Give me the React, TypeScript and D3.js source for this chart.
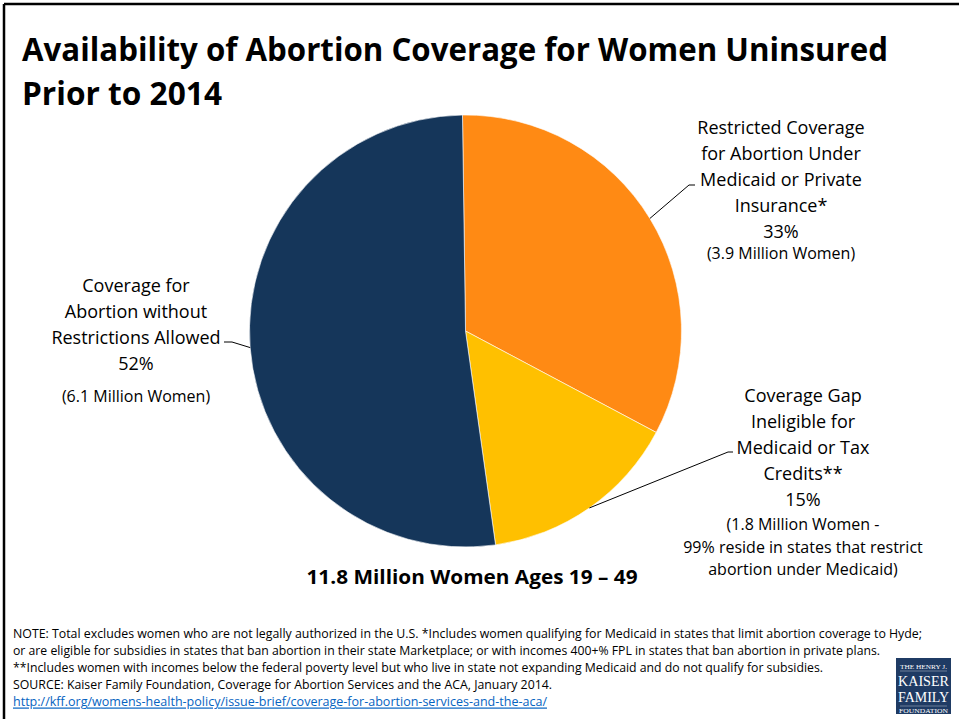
import React from "react";
import * as d3 from "d3";

const categories = [
  "Restricted Coverage for Abortion Under Medicaid or Private Insurance*",
  "Coverage Gap Ineligible for Medicaid or Tax Credits**",
  "Coverage for Abortion without Restrictions Allowed",
];
const percentValues = [33, 15, 52];
const percentLabels = ["33%", "15%", "52%"];
const nameLines = [
  ["Restricted Coverage", "for Abortion Under", "Medicaid or Private", "Insurance*"],
  ["Coverage Gap", "Ineligible for", "Medicaid or Tax", "Credits**"],
  ["Coverage for", "Abortion without", "Restrictions Allowed"],
];
const subLines = [
  ["(3.9 Million Women)"],
  ["(1.8 Million Women -", "99% reside in states that restrict", "abortion under Medicaid)"],
  ["(6.1 Million Women)"],
];
const sliceColors = ["#FF8A14", "#FFC000", "#15365A"];

const titleLines = ["Availability of Abortion Coverage for Women Uninsured", "Prior to 2014"];
const totalLabel = "11.8 Million Women Ages 19 \u2013 49";
const noteLines = [
  "NOTE: Total excludes women who are not legally authorized in the U.S. *Includes women qualifying for Medicaid in states that limit abortion coverage to Hyde;",
  "or are eligible for subsidies in states that ban abortion in their state Marketplace; or with incomes 400+% FPL in states that ban abortion in private plans.",
  "**Includes women with incomes below the federal poverty level but who live in state not expanding Medicaid and do not qualify for subsidies.",
  "SOURCE: Kaiser Family Foundation, Coverage for Abortion Services and the ACA, January 2014.",
];
const linkText = "http://kff.org/womens-health-policy/issue-brief/coverage-for-abortion-services-and-the-aca/";

// layout (positions only)
const labelLayout = [
  { cx: 781, y0: 127, step: 26, subY0: 253, subStep: 22, elbow: [689, 185], end: [695, 185] },
  { cx: 803, y0: 395, step: 26, subY0: 524, subStep: 22.5, elbow: [728, 452], end: [733, 452] },
  { cx: 136, y0: 285, step: 26, subY0: 396, subStep: 22, elbow: [232, 342], end: [224, 342] },
];
const noteWidths = [909, 867, 810, 539];

export default function App() {
  const W = 959;
  const H = 719;
  const cx = 465.5;
  const cy = 331;
  const r = 216;
  const startDeg = -0.8;
  const pie = d3
    .pie<number>()
    .sort(null)
    .value((d) => d)
    .startAngle((startDeg * Math.PI) / 180)
    .endAngle((startDeg * Math.PI) / 180 + 2 * Math.PI);
  const arcs = pie(percentValues);
  const arcGen = d3.arc<d3.PieArcDatum<number>>().innerRadius(0).outerRadius(r);
  const edgeGen = d3.arc<d3.PieArcDatum<number>>().innerRadius(r).outerRadius(r);

  const labelFont = "'Open Sans', sans-serif";
  const narrow = "'Liberation Sans Narrow', 'Open Sans', sans-serif";

  return (
    <svg width={W} height={H} viewBox={`0 0 ${W} ${H}`} style={{ position: "absolute", left: 0, top: 0, background: "#fff" }}>
      <rect x={0} y={0} width={W} height={H} fill="#fff" />
      <line x1={4} y1={4} x2={W} y2={4} stroke="#000" strokeWidth={2.5} />
      <line x1={4} y1={4} x2={4} y2={H} stroke="#000" strokeWidth={2.5} />

      {titleLines.map((t, i) => (
        <text
          key={i}
          x={22}
          y={48 + i * 44}
          dominantBaseline="central"
          fontFamily={narrow}
          fontWeight="bold"
          fontSize={33}
          fill="#000"
          textLength={i === 0 ? 866 : 200}
          lengthAdjust="spacingAndGlyphs"
        >
          {t}
        </text>
      ))}

      <g transform={`translate(${cx},${cy})`}>
        {arcs.map((a, i) => (
          <path key={i} d={arcGen(a) || ""} fill={sliceColors[i]} stroke="#fff" strokeWidth={0.6} />
        ))}
      </g>

      {arcs.map((a, i) => {
        const [px, py] = edgeGen.centroid(a);
        const L = labelLayout[i];
        return (
          <polyline
            key={"l" + i}
            points={`${cx + px},${cy + py} ${L.elbow[0]},${L.elbow[1]} ${L.end[0]},${L.end[1]}`}
            fill="none"
            stroke="#000"
            strokeWidth={1}
          />
        );
      })}

      {categories.map((c, i) => {
        const L = labelLayout[i];
        const lines = [...nameLines[i], percentLabels[i]];
        return (
          <g key={"t" + i} fontFamily={labelFont} fill="#000" textAnchor="middle">
            {lines.map((ln, j) => (
              <text key={j} x={L.cx} y={L.y0 + j * L.step} dominantBaseline="central" fontSize={18}>
                {ln}
              </text>
            ))}
            {subLines[i].map((ln, j) => (
              <text key={"s" + j} x={L.cx} y={L.subY0 + j * L.subStep} dominantBaseline="central" fontSize={16}>
                {ln}
              </text>
            ))}
          </g>
        );
      })}

      <text
        x={472}
        y={577}
        textAnchor="middle"
        dominantBaseline="central"
        fontFamily={labelFont}
        fontWeight="bold"
        fontSize={19}
        fill="#000"
        textLength={331}
        lengthAdjust="spacingAndGlyphs"
      >
        {totalLabel}
      </text>

      {noteLines.map((t, i) => (
        <text
          key={"n" + i}
          x={13}
          y={633 + i * 17}
          dominantBaseline="central"
          fontFamily={narrow}
          fontSize={12}
          fill="#000"
          textLength={noteWidths[i]}
          lengthAdjust="spacingAndGlyphs"
        >
          {t}
        </text>
      ))}
      <text
        x={13}
        y={701}
        dominantBaseline="central"
        fontFamily={narrow}
        fontSize={12}
        fill="#0563C1"
        textDecoration="underline"
        textLength={534}
        lengthAdjust="spacingAndGlyphs"
      >
        {linkText}
      </text>

      <g>
        <rect x={896} y={658} width={55} height={56} fill="#1F3B64" />
        <text x={923.5} y={666} textAnchor="middle" dominantBaseline="central" fontFamily="'Liberation Serif', serif" fontSize={6.5} fill="#fff" textLength={47} lengthAdjust="spacingAndGlyphs">THE HENRY J.</text>
        <line x1={900} y1={671} x2={947} y2={671} stroke="#fff" strokeWidth={0.5} opacity={0.7} />
        <text x={923.5} y={681.5} textAnchor="middle" dominantBaseline="central" fontFamily="'Liberation Serif', serif" fontSize={14} fill="#fff" textLength={51} lengthAdjust="spacingAndGlyphs">KAISER</text>
        <text x={923.5} y={697.5} textAnchor="middle" dominantBaseline="central" fontFamily="'Liberation Serif', serif" fontSize={14} fill="#fff" textLength={51} lengthAdjust="spacingAndGlyphs">FAMILY</text>
        <line x1={900} y1={706} x2={947} y2={706} stroke="#fff" strokeWidth={0.5} opacity={0.7} />
        <text x={923.5} y={710.5} textAnchor="middle" dominantBaseline="central" fontFamily="'Liberation Serif', serif" fontSize={6} fill="#fff" textLength={49} lengthAdjust="spacingAndGlyphs">FOUNDATION</text>
      </g>
    </svg>
  );
}
